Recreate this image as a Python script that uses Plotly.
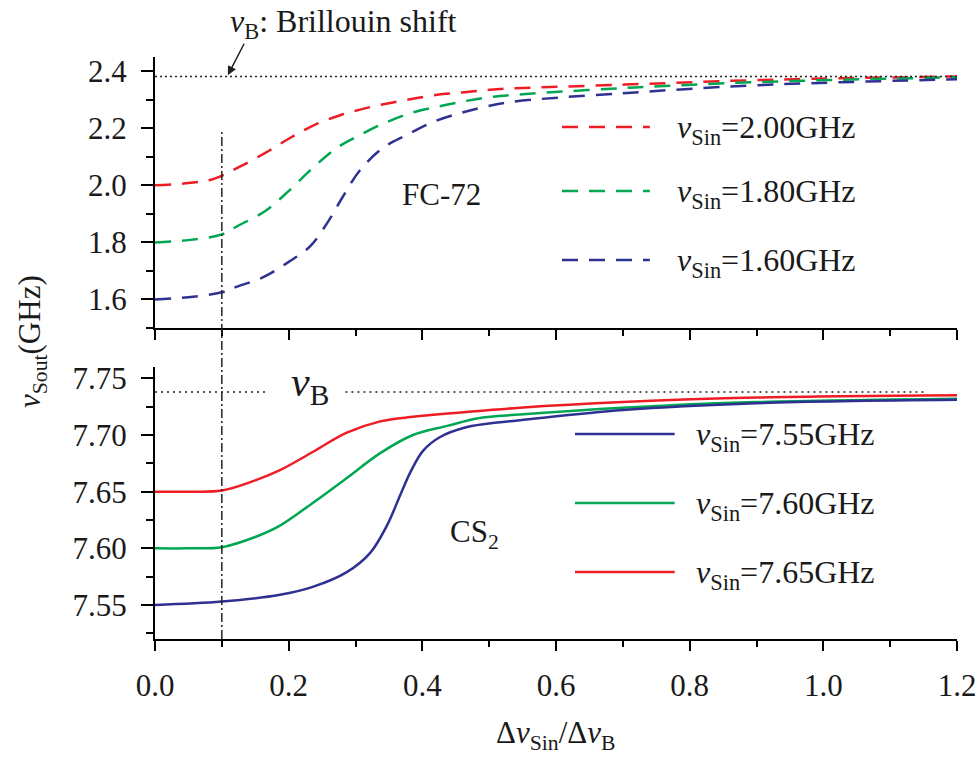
import plotly.graph_objects as go
from plotly.subplots import make_subplots

# ---------------- data ----------------
# FC-72 (top panel, dashed)
x_fc_red = [0.0, 0.05, 0.087, 0.124, 0.165, 0.202, 0.239, 0.277, 0.314, 0.352, 0.392, 0.431, 0.467, 0.501, 0.536, 0.7, 0.9, 1.2]
y_fc_red = [2.000, 2.008, 2.022, 2.062, 2.114, 2.166, 2.212, 2.246, 2.270, 2.289, 2.306, 2.320, 2.327, 2.335, 2.340, 2.353, 2.369, 2.382]

x_fc_green = [0.0, 0.05, 0.1, 0.124, 0.165, 0.199, 0.236, 0.272, 0.307, 0.344, 0.382, 0.419, 0.456, 0.491, 0.531, 0.7, 0.9, 1.2]
y_fc_green = [1.800, 1.808, 1.828, 1.858, 1.910, 1.978, 2.061, 2.131, 2.177, 2.219, 2.253, 2.274, 2.292, 2.306, 2.316, 2.341, 2.362, 2.379]

x_fc_blue = [0.0, 0.05, 0.1, 0.124, 0.162, 0.199, 0.232, 0.259, 0.281, 0.307, 0.341, 0.377, 0.416, 0.456, 0.491, 0.531, 0.7, 0.9, 1.2]
y_fc_blue = [1.600, 1.608, 1.625, 1.646, 1.678, 1.730, 1.786, 1.873, 1.960, 2.054, 2.131, 2.177, 2.222, 2.253, 2.274, 2.292, 2.323, 2.351, 2.372]

# CS2 (bottom panel, solid)
x_cs_red = [0.0, 0.05, 0.1, 0.15, 0.187, 0.236, 0.287, 0.337, 0.386, 0.461, 0.546, 0.7, 0.9, 1.2]
y_cs_red = [7.650, 7.650, 7.651, 7.660, 7.669, 7.685, 7.702, 7.712, 7.716, 7.720, 7.724, 7.729, 7.733, 7.735]

x_cs_green = [0.0, 0.05, 0.1, 0.15, 0.187, 0.236, 0.287, 0.337, 0.386, 0.437, 0.486, 0.546, 0.7, 0.9, 1.2]
y_cs_green = [7.600, 7.600, 7.601, 7.610, 7.620, 7.640, 7.662, 7.684, 7.700, 7.708, 7.715, 7.718, 7.724, 7.729, 7.732]

x_cs_blue = [0.0, 0.1, 0.187, 0.236, 0.287, 0.322, 0.347, 0.367, 0.382, 0.401, 0.426, 0.467, 0.512, 0.546, 0.7, 0.9, 1.2]
y_cs_blue = [7.550, 7.553, 7.559, 7.566, 7.579, 7.596, 7.620, 7.647, 7.667, 7.686, 7.698, 7.707, 7.711, 7.713, 7.722, 7.728, 7.731]

# reference lines
vB_top = 2.382
vB_bottom = 7.738
x_marker = 0.1

top_labels = ["=2.00GHz", "=1.80GHz", "=1.60GHz"]
bottom_labels = ["=7.55GHz", "=7.60GHz", "=7.65GHz"]

RED = "#ee1c24"
GREEN = "#00a651"
BLUE = "#2e3192"
FONT = "Liberation Serif"
TXT = "#1a1a1a"

fig = make_subplots(rows=2, cols=1, shared_xaxes=False, vertical_spacing=0.0)

dash_top = "16px,11px"
for xs, ys, c in [(x_fc_red, y_fc_red, RED), (x_fc_green, y_fc_green, GREEN), (x_fc_blue, y_fc_blue, BLUE)]:
    fig.add_trace(go.Scatter(x=xs, y=ys, mode="lines", line=dict(color=c, width=2.5, dash=dash_top, shape="spline", smoothing=1.0),
                             showlegend=False), row=1, col=1)

for xs, ys, c in [(x_cs_red, y_cs_red, RED), (x_cs_green, y_cs_green, GREEN), (x_cs_blue, y_cs_blue, BLUE)]:
    fig.add_trace(go.Scatter(x=xs, y=ys, mode="lines", line=dict(color=c, width=2.5, shape="spline", smoothing=1.0),
                             showlegend=False), row=2, col=1)

# Brillouin reference lines
fig.add_trace(go.Scatter(x=[0, 1.2], y=[vB_top, vB_top], mode="lines",
                         line=dict(color="#222", width=1.5, dash="2px,3px"), showlegend=False), row=1, col=1)
fig.add_trace(go.Scatter(x=[0, 0.17], y=[vB_bottom, vB_bottom], mode="lines",
                         line=dict(color="#222", width=1.5, dash="2px,4px"), showlegend=False), row=2, col=1)
fig.add_trace(go.Scatter(x=[0.285, 1.155], y=[vB_bottom, vB_bottom], mode="lines",
                         line=dict(color="#222", width=1.5, dash="2px,4px"), showlegend=False), row=2, col=1)

# Domains
top_dom = [0.5344, 1.0]
bot_dom = [0.0, 0.4674]

axis_common = dict(showline=True, linecolor="black", linewidth=2, ticks="outside", tickcolor="black",
                   tickwidth=2, showgrid=False, zeroline=False, mirror=False, automargin=False,
                   tickfont=dict(family=FONT, size=31, color=TXT))

fig.update_xaxes(range=[0, 1.2], dtick=0.2, tick0=0, ticklen=10, showticklabels=False,
                 minor=dict(dtick=0.1, ticklen=6, ticks="outside", tickcolor="black", tickwidth=2),
                 **axis_common, row=1, col=1)
fig.update_xaxes(range=[0, 1.2], dtick=0.2, tick0=0, ticklen=10, tickformat=".1f", ticklabelstandoff=8,
                 minor=dict(dtick=0.1, ticklen=6, ticks="outside", tickcolor="black", tickwidth=2),
                 **axis_common, row=2, col=1)
fig.update_yaxes(range=[1.5, 2.45], dtick=0.2, tick0=1.6, ticklen=12, tickformat=".1f", ticklabelstandoff=8,
                 minor=dict(dtick=0.1, ticklen=7, ticks="outside", tickcolor="black", tickwidth=2),
                 domain=top_dom, **axis_common, row=1, col=1)
fig.update_yaxes(range=[7.52, 7.76], dtick=0.05, tick0=7.55, ticklen=12, tickformat=".2f", ticklabelstandoff=8,
                 minor=dict(dtick=0.025, ticklen=7, ticks="outside", tickcolor="black", tickwidth=2),
                 domain=bot_dom, **axis_common, row=2, col=1)

shapes = []
# vertical dash-dot marker spanning both panels
shapes.append(dict(type="line", xref="x2", yref="paper", x0=x_marker, x1=x_marker, y0=0.0, y1=(639 - 131) / 582,
                   line=dict(color="#222", width=1.5, dash="9px,3px,2px,3px")))

# manual legends
top_leg_y = [0.8797, 0.7698, 0.6512]
bot_leg_y = [0.3522, 0.2337, 0.1151]
annotations = []
for yy, c, lab in zip(top_leg_y, [RED, GREEN, BLUE], top_labels):
    shapes.append(dict(type="line", xref="paper", yref="paper", x0=0.5075, x1=0.617, y0=yy, y1=yy,
                       line=dict(color=c, width=2.5, dash="16px,11px")))
    annotations.append(dict(xref="paper", yref="paper", x=0.648, y=yy - 0.004, xanchor="left", yanchor="middle",
                            text="<i>ν</i><sub>Sin</sub>" + lab, showarrow=False,
                            font=dict(family=FONT, size=32, color=TXT)))
for yy, c, lab in zip(bot_leg_y, [BLUE, GREEN, RED], bottom_labels):
    shapes.append(dict(type="line", xref="paper", yref="paper", x0=0.5237, x1=0.648, y0=yy, y1=yy,
                       line=dict(color=c, width=2.5)))
    annotations.append(dict(xref="paper", yref="paper", x=0.672, y=yy - 0.004, xanchor="left", yanchor="middle",
                            text="<i>ν</i><sub>Sin</sub>" + lab, showarrow=False,
                            font=dict(family=FONT, size=32, color=TXT)))

# texts
annotations += [
    dict(xref="x", yref="y", x=0.428, y=1.967, text="FC-72", showarrow=False, xanchor="center", yanchor="middle",
         font=dict(family=FONT, size=31, color=TXT)),
    dict(xref="x2", yref="y2", x=0.478, y=7.613, text="CS<sub>2</sub>", showarrow=False, xanchor="center", yanchor="middle",
         font=dict(family=FONT, size=31, color=TXT)),
    dict(xref="x2", yref="y2", x=0.232, y=7.744, text="<i>ν</i><sub>B</sub>", showarrow=False, xanchor="center", yanchor="middle",
         font=dict(family=FONT, size=42, color=TXT)),
    dict(xref="paper", yref="paper", x=(228 - 155) / 802, y=(639 - 24) / 582, xanchor="left", yanchor="middle",
         text="<i>ν</i><sub>B</sub>: Brillouin shift", showarrow=False,
         font=dict(family=FONT, size=32, color=TXT)),
    dict(xref="x", yref="y", x=0.109, y=2.386, text="", showarrow=True, arrowhead=2, arrowsize=1.2,
         arrowwidth=1.5, arrowcolor="#222", ax=17, ay=-33),
    dict(xref="paper", yref="paper", x=(32 - 155) / 802, y=(639 - 342) / 582, text="<i>ν</i><sub>Sout</sub>(GHz)",
         xanchor="center", yanchor="middle",
         textangle=-90, showarrow=False, font=dict(family=FONT, size=31, color=TXT)),
    dict(xref="paper", yref="paper", x=0.499, y=(639 - 735) / 582, text="Δ<i>ν</i><sub>Sin</sub>/Δ<i>ν</i><sub>B</sub>",
         xanchor="center", yanchor="middle",
         showarrow=False, font=dict(family=FONT, size=31, color=TXT)),
]

fig.update_layout(width=979, height=758, margin=dict(l=155, r=22, t=57, b=119),
                  paper_bgcolor="white", plot_bgcolor="white", shapes=shapes, annotations=annotations,
                  showlegend=False)

fig.write_html("out.html")
